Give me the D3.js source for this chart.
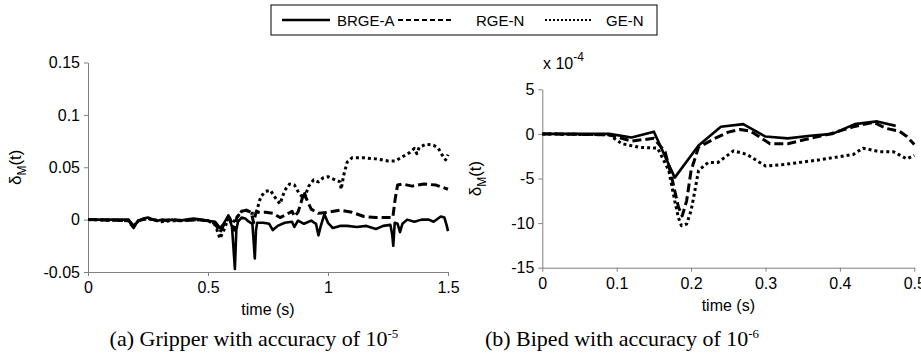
<!DOCTYPE html>
<html>
<head>
<meta charset="utf-8">
<script src="https://cdn.jsdelivr.net/npm/d3@7"></script>
<style>
  body { margin: 0; background: #fff; }
  svg { font-family: "Liberation Sans", Arial, sans-serif; }
  .axis path, .axis line { stroke: #808080; }
  .axis text { fill: #000; font-size: 16px; }
</style>
</head>
<body>
<svg id="chart" width="921" height="359"></svg>
<script>
// series names for the legend
var seriesNames = ['BRGE-A', 'RGE-N', 'GE-N']

// (a) gripper, [time s, delta]
var gripperBRGE = [[0,0],[0.17,0],[0.18,-0.005],[0.19,-0.008],[0.2,-0.004],[0.21,-0.001],[0.23,0.001],[0.25,0.002],[0.27,0],[0.29,-0.001],[0.31,0],[0.33,-0.001],[0.35,0],[0.38,-0.001],[0.41,0],[0.44,0.001],[0.47,0],[0.5,-0.001],[0.53,-0.002],[0.55,-0.008],[0.565,-0.004],[0.585,0.004],[0.6,-0.007],[0.607,-0.03],[0.612,-0.047],[0.618,-0.01],[0.625,-0.002],[0.64,0.002],[0.655,0.001],[0.67,-0.002],[0.685,-0.004],[0.69,-0.02],[0.695,-0.037],[0.7,-0.01],[0.705,-0.003],[0.73,-0.003],[0.755,-0.004],[0.77,-0.01],[0.79,-0.006],[0.82,-0.003],[0.85,-0.002],[0.86,-0.007],[0.875,-0.001],[0.9,-0.004],[0.93,-0.001],[0.95,-0.004],[0.96,-0.015],[0.97,-0.006],[0.985,0.005],[1.0,-0.003],[1.02,-0.008],[1.05,-0.006],[1.08,-0.006],[1.12,-0.007],[1.16,-0.006],[1.2,-0.009],[1.23,-0.006],[1.26,-0.005],[1.268,-0.015],[1.272,-0.025],[1.278,-0.003],[1.29,-0.004],[1.3,-0.012],[1.31,-0.004],[1.33,0],[1.36,-0.002],[1.39,0],[1.42,0],[1.44,-0.002],[1.47,0.003],[1.485,0.002],[1.495,-0.006],[1.5,-0.011]]
var gripperRGE = [[0,0],[0.17,-0.001],[0.19,-0.006],[0.21,-0.001],[0.25,0.001],[0.3,-0.001],[0.35,0],[0.4,-0.001],[0.45,0],[0.5,-0.001],[0.53,-0.004],[0.55,-0.012],[0.57,-0.003],[0.59,0.002],[0.6,-0.004],[0.61,-0.01],[0.62,0.002],[0.64,0.008],[0.66,0.009],[0.68,0.007],[0.69,-0.003],[0.7,0.007],[0.74,0.007],[0.77,0.006],[0.8,0.002],[0.82,0.004],[0.85,0.008],[0.86,0.003],[0.875,0.007],[0.89,0.018],[0.9,0.027],[0.91,0.02],[0.93,0.01],[0.96,0.006],[1.0,0.007],[1.05,0.009],[1.1,0.007],[1.15,0.003],[1.2,0.002],[1.27,0.002],[1.28,0.02],[1.29,0.033],[1.31,0.034],[1.35,0.032],[1.4,0.034],[1.45,0.033],[1.5,0.029]]
var gripperGE = [[0,0],[0.17,-0.001],[0.19,-0.006],[0.21,-0.001],[0.25,0.001],[0.3,-0.002],[0.35,-0.001],[0.4,-0.001],[0.45,0],[0.5,-0.001],[0.53,-0.005],[0.55,-0.018],[0.57,-0.008],[0.585,0.002],[0.6,-0.004],[0.62,0.002],[0.64,0.008],[0.66,0.009],[0.68,0.006],[0.7,0.006],[0.72,0.022],[0.74,0.027],[0.76,0.028],[0.78,0.021],[0.8,0.015],[0.82,0.028],[0.84,0.034],[0.86,0.033],[0.88,0.025],[0.9,0.02],[0.92,0.032],[0.94,0.038],[0.96,0.036],[0.98,0.04],[1.0,0.041],[1.03,0.038],[1.05,0.036],[1.055,0.029],[1.065,0.042],[1.08,0.055],[1.1,0.059],[1.15,0.059],[1.2,0.058],[1.25,0.056],[1.28,0.056],[1.31,0.06],[1.34,0.064],[1.36,0.068],[1.37,0.063],[1.38,0.069],[1.41,0.072],[1.44,0.071],[1.46,0.068],[1.48,0.06],[1.49,0.057],[1.5,0.062]]
var gripperXTicks = [0, 0.5, 1, 1.5]
var gripperYTicks = [-0.05, 0, 0.05, 0.1, 0.15]

// (b) biped, [time s, delta x 1e-4]
var bipedBRGE = [[0,0],[0.09,0],[0.12,-0.4],[0.15,0.25],[0.178,-4.9],[0.21,-1.3],[0.24,0.8],[0.27,1.1],[0.3,-0.3],[0.33,-0.5],[0.36,-0.2],[0.39,0],[0.42,1.1],[0.45,1.4],[0.475,0.9]]
var bipedRGE = [[0,0],[0.09,-0.1],[0.12,-0.8],[0.15,-0.5],[0.165,-2],[0.174,-4.9],[0.183,-8.2],[0.188,-9.2],[0.194,-7.5],[0.2,-4.1],[0.21,-1.5],[0.232,-0.5],[0.25,0.2],[0.266,0.5],[0.28,0.3],[0.306,-1.1],[0.33,-1.1],[0.355,-0.6],[0.387,0],[0.418,0.8],[0.445,1.3],[0.463,0.6],[0.48,0.3],[0.49,-0.3],[0.5,-1.2]]
var bipedGE = [[0,0],[0.09,-0.1],[0.107,-1.1],[0.13,-1.5],[0.155,-1.6],[0.17,-4.1],[0.178,-7.5],[0.183,-9.4],[0.187,-10.3],[0.194,-10.1],[0.2,-8.6],[0.205,-6.4],[0.21,-4.1],[0.223,-3.2],[0.236,-3.2],[0.257,-1.9],[0.275,-2.3],[0.3,-3.6],[0.328,-3.4],[0.373,-2.9],[0.418,-2.3],[0.431,-1.6],[0.454,-2.0],[0.472,-2.0],[0.49,-2.8],[0.5,-2.4]]
var bipedXTicks = [0, 0.1, 0.2, 0.3, 0.4, 0.5]
var bipedYTicks = [-15, -10, -5, 0, 5]

var dashes = ['none', '9,4', '3,3']
var legendDashes = ['none', '5,3', '2,2']

var svg = d3.select('#chart')

function drawPanel(o){
  var x = d3.scaleLinear().domain(o.xDomain).range([o.left, o.right])
  var y = d3.scaleLinear().domain(o.yDomain).range([o.bottom, o.top])

  var g = svg.append('g')

  g.append('g').attr('class', 'axis')
    .attr('transform', 'translate(0,' + o.bottom + ')')
    .call(d3.axisBottom(x).tickValues(o.xTicks).tickSize(4).tickSizeOuter(0).tickPadding(6).tickFormat(d => String(d)))

  g.append('g').attr('class', 'axis')
    .attr('transform', 'translate(' + o.left + ',0)')
    .call(d3.axisLeft(y).tickValues(o.yTicks).tickSize(4).tickSizeOuter(0).tickPadding(4).tickFormat(d => String(d)))

  var line = d3.line().x(d => x(d[0])).y(d => y(d[1]))

  o.series.forEach((s, i) => {
    g.append('path')
      .attr('d', line(s))
      .attr('fill', 'none')
      .attr('stroke', '#000')
      .attr('stroke-width', i == 0 ? 2.6 : 3)
      .attr('stroke-dasharray', dashes[i])
      .attr('stroke-linejoin', 'round')
  })

  // axis titles
  g.append('text')
    .attr('x', (o.left + o.right) / 2).attr('y', o.bottom + 43)
    .attr('text-anchor', 'middle').style('font-size', '16px')
    .text('time (s)')

  var yl = g.append('text')
    .attr('transform', 'translate(' + o.yLabelX + ',' + (o.top + o.bottom) / 2 + ') rotate(-90)')
    .attr('text-anchor', 'middle').style('font-size', '17px')
  yl.append('tspan').text('δ')
  yl.append('tspan').attr('dy', 5).style('font-size', '12px').text('M')
  yl.append('tspan').attr('dy', -5).text('(t)')

  // caption
  var cap = g.append('text')
    .attr('x', o.capX).attr('y', 346)
    .attr('text-anchor', 'middle')
    .style('font-family', '"Liberation Serif", "Times New Roman", serif')
    .style('font-size', '22px')
  cap.append('tspan').text(o.caption)
  cap.append('tspan').attr('dy', -8).style('font-size', '13px').text(o.capExp)

  return {x, y, g}
}

drawPanel({
  left: 88, right: 448, top: 62.5, bottom: 272,
  xDomain: [0, 1.5], yDomain: [-0.05, 0.15],
  xTicks: gripperXTicks, yTicks: gripperYTicks,
  series: [gripperBRGE, gripperRGE, gripperGE],
  yLabelX: 21, capX: 254,
  caption: '(a) Gripper with accuracy of 10', capExp: '-5'
})

var b = drawPanel({
  left: 542.3, right: 914.3, top: 89.3, bottom: 267.7,
  xDomain: [0, 0.5], yDomain: [-15, 5],
  xTicks: bipedXTicks, yTicks: bipedYTicks,
  series: [bipedBRGE, bipedRGE, bipedGE],
  yLabelX: 481, capX: 622,
  caption: '(b) Biped with accuracy of 10', capExp: '-6'
})

// exponent label above the biped y axis
var ex = b.g.append('text').attr('x', 543).attr('y', 69).style('font-size', '16px')
ex.append('tspan').text('x 10')
ex.append('tspan').attr('dy', -8).style('font-size', '12px').text('-4')

// legend
var legend = svg.append('g')
legend.append('rect')
  .attr('x', 271).attr('y', 5).attr('width', 386).attr('height', 30)
  .attr('fill', '#fff').attr('stroke', '#000')

var legX = [[282, 330, 337], [398, 452, 476], [545, 592, 606]]
seriesNames.forEach((name, i) => {
  legend.append('line')
    .attr('x1', legX[i][0]).attr('x2', legX[i][1]).attr('y1', 20).attr('y2', 20)
    .attr('stroke', '#000').attr('stroke-width', i == 0 ? 2.5 : 2)
    .attr('stroke-dasharray', legendDashes[i])
  legend.append('text')
    .attr('x', legX[i][2]).attr('y', 26)
    .style('font-size', '15px')
    .text(name)
})
</script>
</body>
</html>
